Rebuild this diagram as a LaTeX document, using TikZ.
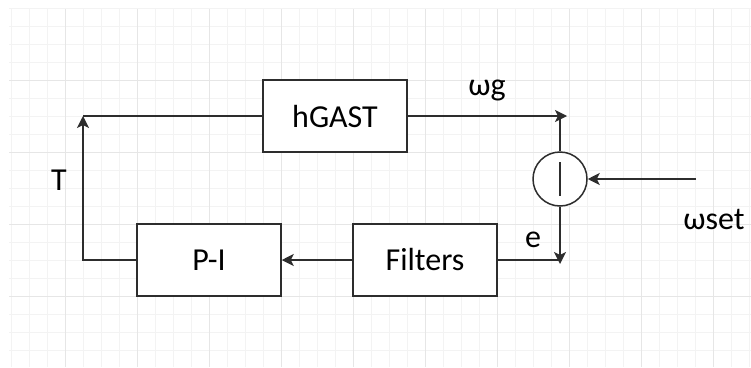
\documentclass[tikz,border=0pt]{standalone}
\usepackage{fontspec}
\setmainfont{Carlito}
\usepackage{tikz}
\usetikzlibrary{positioning,arrows.meta,calc}
\definecolor{gridlo}{RGB}{243,243,243}
\definecolor{gridhi}{RGB}{230,230,230}
\definecolor{wire}{RGB}{45,45,45}
\newcommand{\blockfont}{\fontsize{32}{38}\selectfont}

\begin{document}
\begin{tikzpicture}[x=1pt,y=-1pt,
  blk/.style={draw=wire,line width=1.5pt,fill=white,minimum width=144pt,minimum height=72pt,font=\blockfont},
  sumc/.style={draw=wire,line width=1.5pt,fill=white,circle,minimum size=54pt,inner sep=0pt},
  lbl/.style={font=\blockfont,inner sep=0pt},
  wirel/.style={draw=wire,line width=1.5pt},
  arr/.style={wirel,-{Stealth[length=12pt,width=12pt,inset=3pt]}}]
\useasboundingbox (0,0) rectangle (751,367);
% background grid
\foreach \gx in {11,29,...,749} \draw[gridlo,line width=1pt] (\gx,9) -- (\gx,367);
\foreach \gy in {8,26,...,366} \draw[gridlo,line width=1pt] (9,\gy) -- (751,\gy);
\foreach \gx in {65,137,...,713} \draw[gridhi,line width=1pt] (\gx,9) -- (\gx,367);
\foreach \gy in {80,152,224,296} \draw[gridhi,line width=1pt] (9,\gy) -- (751,\gy);
% blocks
\node[blk] (hgast) at (335,116) {hGAST};
\node[blk] (pictl) at (209,260) {P-I};
\node[blk] (filt) at (425,260) {Filters};
\node[sumc] (sum) at (560,179) {};
\draw[wirel] ([yshift=17pt]sum.center) -- ([yshift=-17pt]sum.center);
% corners and free ends
\coordinate (cnrtr) at (560,116);
\coordinate (cnrbr) at (560,260);
\coordinate (cnrtl) at (83,116);
\coordinate (setin) at (696,179);
% connectors
\draw[arr] (hgast.east) -- ([xshift=7pt]cnrtr);
\draw[wirel] (sum.north) -- (cnrtr);
\draw[arr] (sum.south) -- ([yshift=-4pt]cnrbr);
\draw[wirel] (filt.east) -- (cnrbr);
\draw[arr] (filt.west) -- (pictl.east);
\draw[arr] (pictl.west) -| (cnrtl);
\draw[wirel] (hgast.west) -- (cnrtl);
\draw[arr] (setin) -- (sum.east);
% labels
\node[lbl] (wg) at (487,90) {ωg};
\node[lbl] (err) at (533,240) {e};
\node[lbl] (wset) at (714,219) {ωset};
\node[lbl] (torq) at (59,180) {T};
\end{tikzpicture}
\end{document}
